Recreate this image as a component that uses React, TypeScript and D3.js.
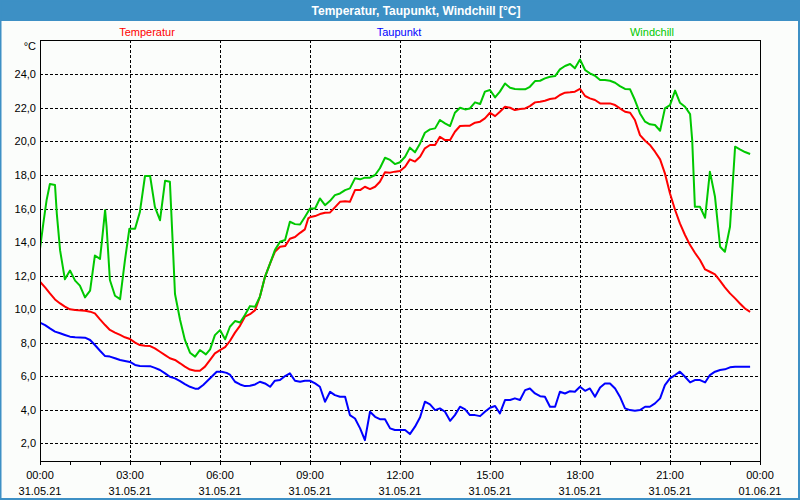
import React from 'react';
import * as d3 from 'd3';

const chartTitle = 'Temperatur, Taupunkt, Windchill [°C]';
const unitLabel = '°C';
const seriesNames = ['Temperatur', 'Taupunkt', 'Windchill'];
const seriesColors = ['#ff0000', '#0000ff', '#00c800'];

const xTickHours = [0, 3, 6, 9, 12, 15, 18, 21, 24];
const xTickTimes = ['00:00', '03:00', '06:00', '09:00', '12:00', '15:00', '18:00', '21:00', '00:00'];
const xTickDates = ['31.05.21', '31.05.21', '31.05.21', '31.05.21', '31.05.21', '31.05.21', '31.05.21', '31.05.21', '01.06.21'];
const yTicks = [2, 4, 6, 8, 10, 12, 14, 16, 18, 20, 22, 24];

const tempHours = [0, 0.17, 0.33, 0.5, 0.67, 0.83, 1, 1.17, 1.5, 1.67, 1.83, 2, 2.17, 2.33, 2.5, 2.67, 2.83, 3, 3.17, 3.33, 3.5, 3.67, 3.83, 4, 4.17, 4.33, 4.5, 4.67, 4.83, 5, 5.17, 5.33, 5.5, 5.67, 5.83, 6, 6.17, 6.33, 6.5, 6.67, 6.83, 7, 7.17, 7.33, 7.5, 7.67, 7.83, 8, 8.17, 8.33, 8.5, 8.67, 8.83, 8.94, 9.02, 9.17, 9.33, 9.5, 9.67, 9.83, 10, 10.17, 10.33, 10.5, 10.67, 10.83, 11, 11.17, 11.33, 11.5, 11.67, 11.83, 12, 12.17, 12.33, 12.5, 12.67, 12.83, 13, 13.17, 13.33, 13.5, 13.67, 13.83, 14, 14.17, 14.33, 14.5, 14.67, 14.83, 15, 15.17, 15.33, 15.5, 15.67, 15.83, 16, 16.17, 16.33, 16.5, 16.67, 16.83, 17, 17.17, 17.33, 17.5, 17.67, 17.83, 18, 18.17, 18.33, 18.5, 18.67, 18.83, 19, 19.17, 19.33, 19.5, 19.67, 19.83, 20, 20.17, 20.33, 20.5, 20.67, 20.83, 21, 21.17, 21.33, 21.5, 21.67, 21.83, 22, 22.17, 22.33, 22.5, 22.67, 22.83, 23, 23.17, 23.33, 23.5, 23.67];
const tempValues = [11.64, 11.3, 10.94, 10.58, 10.34, 10.15, 9.99, 9.95, 9.9, 9.85, 9.75, 9.39, 9.05, 8.76, 8.6, 8.46, 8.32, 8.22, 8.0, 7.86, 7.82, 7.8, 7.66, 7.46, 7.26, 7.07, 6.97, 6.77, 6.57, 6.4, 6.33, 6.33, 6.57, 6.97, 7.36, 7.56, 7.74, 8.1, 8.6, 9.02, 9.55, 9.7, 9.94, 10.74, 11.93, 12.73, 13.42, 13.72, 13.76, 14.2, 14.3, 14.55, 14.76, 15.41, 15.5, 15.55, 15.67, 15.75, 15.77, 16.07, 16.4, 16.44, 16.4, 17.1, 17.1, 17.3, 17.16, 17.3, 17.6, 18.16, 18.14, 18.2, 18.24, 18.49, 18.93, 18.8, 19.09, 19.59, 19.79, 19.79, 20.28, 20.08, 20.08, 20.58, 20.92, 20.94, 20.94, 21.12, 21.18, 21.38, 21.71, 21.51, 21.77, 22.07, 22.01, 21.87, 21.93, 21.97, 22.11, 22.33, 22.37, 22.43, 22.53, 22.57, 22.77, 22.91, 22.93, 22.97, 23.14, 22.71, 22.57, 22.47, 22.27, 22.27, 22.27, 22.17, 21.97, 21.77, 21.71, 21.28, 20.38, 20.04, 19.79, 19.39, 18.93, 18.1, 16.9, 15.91, 15.11, 14.42, 13.82, 13.36, 12.93, 12.37, 12.23, 12.07, 11.69, 11.3, 10.94, 10.64, 10.34, 10.04, 9.84];

const dewHours = [0, 0.17, 0.33, 0.5, 0.67, 0.83, 1, 1.17, 1.5, 1.67, 1.83, 2, 2.17, 2.33, 2.5, 2.67, 2.83, 3, 3.17, 3.33, 3.67, 3.83, 4, 4.17, 4.33, 4.5, 4.67, 4.83, 5, 5.17, 5.28, 5.44, 5.61, 5.78, 5.89, 6.06, 6.22, 6.33, 6.5, 6.67, 6.83, 7, 7.17, 7.33, 7.5, 7.67, 7.83, 8, 8.17, 8.33, 8.5, 8.67, 8.83, 9, 9.17, 9.33, 9.5, 9.67, 9.83, 10, 10.17, 10.33, 10.5, 10.67, 10.83, 11, 11.17, 11.33, 11.5, 11.67, 11.83, 12, 12.17, 12.33, 12.5, 12.67, 12.83, 13, 13.17, 13.33, 13.5, 13.67, 13.83, 14, 14.17, 14.33, 14.5, 14.67, 14.83, 15, 15.17, 15.33, 15.5, 15.67, 15.83, 16, 16.17, 16.33, 16.5, 16.67, 16.83, 17, 17.17, 17.33, 17.5, 17.67, 17.83, 18, 18.17, 18.33, 18.5, 18.67, 18.83, 19, 19.17, 19.33, 19.5, 19.67, 19.83, 20, 20.17, 20.33, 20.5, 20.67, 20.83, 21, 21.17, 21.33, 21.5, 21.67, 21.83, 22, 22.17, 22.33, 22.5, 22.67, 22.83, 23, 23.17, 23.33, 23.67];
const dewValues = [9.19, 9.05, 8.85, 8.66, 8.56, 8.46, 8.36, 8.32, 8.3, 8.16, 7.86, 7.52, 7.2, 7.17, 7.07, 6.97, 6.91, 6.85, 6.67, 6.61, 6.6, 6.5, 6.37, 6.17, 5.97, 5.87, 5.71, 5.53, 5.37, 5.26, 5.26, 5.48, 5.77, 6.07, 6.27, 6.27, 6.2, 6.1, 5.67, 5.51, 5.41, 5.43, 5.51, 5.67, 5.57, 5.37, 5.73, 5.77, 6.01, 6.17, 5.73, 5.67, 5.73, 5.73, 5.57, 5.37, 4.48, 5.07, 4.87, 4.78, 4.78, 3.68, 3.48, 2.89, 2.19, 3.88, 3.58, 3.44, 3.44, 2.89, 2.79, 2.79, 2.79, 2.55, 2.99, 3.55, 4.48, 4.32, 3.98, 4.08, 3.88, 3.34, 3.68, 4.18, 4.02, 3.68, 3.68, 3.62, 3.88, 4.12, 4.22, 3.78, 4.58, 4.58, 4.68, 4.58, 5.17, 5.27, 4.97, 4.81, 4.78, 4.18, 4.18, 5.07, 4.97, 5.11, 5.07, 5.37, 5.13, 5.27, 4.78, 5.33, 5.57, 5.57, 5.27, 4.78, 4.08, 3.98, 3.94, 3.98, 4.18, 4.18, 4.38, 4.68, 5.47, 5.87, 6.07, 6.27, 5.97, 5.63, 5.77, 5.77, 5.63, 6.07, 6.27, 6.37, 6.41, 6.53, 6.57, 6.57, 6.57];

const windHours = [0, 0.11, 0.22, 0.33, 0.5, 0.56, 0.67, 0.83, 1, 1.17, 1.33, 1.5, 1.67, 1.83, 2, 2.09, 2.17, 2.22, 2.33, 2.5, 2.67, 2.83, 2.98, 3.17, 3.33, 3.5, 3.67, 3.83, 4, 4.17, 4.33, 4.42, 4.5, 4.67, 4.83, 5, 5.17, 5.33, 5.53, 5.67, 5.83, 6, 6.17, 6.33, 6.5, 6.67, 6.83, 7, 7.17, 7.33, 7.5, 7.67, 7.83, 8, 8.17, 8.33, 8.5, 8.67, 8.83, 9, 9.17, 9.33, 9.5, 9.67, 9.83, 10, 10.17, 10.33, 10.5, 10.67, 10.83, 11, 11.17, 11.33, 11.5, 11.67, 11.83, 12, 12.17, 12.33, 12.5, 12.67, 12.83, 13, 13.17, 13.33, 13.5, 13.67, 13.83, 14, 14.17, 14.33, 14.5, 14.67, 14.83, 15, 15.17, 15.33, 15.5, 15.67, 15.83, 16, 16.17, 16.33, 16.5, 16.67, 16.83, 17, 17.17, 17.33, 17.5, 17.67, 17.83, 18, 18.17, 18.33, 18.5, 18.67, 18.83, 19, 19.17, 19.33, 19.5, 19.67, 19.83, 20, 20.17, 20.33, 20.5, 20.67, 20.83, 21, 21.17, 21.33, 21.5, 21.67, 21.74, 21.83, 22, 22.17, 22.33, 22.5, 22.67, 22.83, 23, 23.17, 23.33, 23.5, 23.67];
const windValues = [13.6, 15.1, 16.5, 17.46, 17.4, 15.7, 13.5, 11.78, 12.3, 11.7, 11.4, 10.7, 11.1, 13.2, 13.0, 14.5, 15.9, 14.9, 11.74, 10.8, 10.6, 12.9, 14.8, 14.8, 15.8, 17.94, 17.94, 16.1, 15.3, 17.66, 17.6, 14.1, 10.9, 9.35, 8.16, 7.4, 7.17, 7.56, 7.3, 7.6, 8.45, 8.75, 8.2, 8.95, 9.29, 9.2, 9.65, 10.18, 10.14, 10.74, 11.93, 12.73, 13.52, 14.02, 14.12, 15.21, 15.07, 15.05, 15.5, 16.0, 16.0, 16.6, 16.2, 16.46, 16.8, 16.9, 17.1, 17.2, 17.8, 17.74, 17.84, 17.84, 18.0, 18.4, 19.03, 18.9, 18.65, 18.76, 19.09, 19.63, 19.35, 19.88, 20.52, 20.72, 20.78, 21.28, 21.08, 20.92, 21.71, 22.01, 21.91, 21.97, 22.33, 22.23, 22.97, 23.07, 22.63, 22.97, 23.46, 23.2, 23.13, 23.11, 23.11, 23.26, 23.6, 23.62, 23.76, 23.86, 23.9, 24.3, 24.5, 24.62, 24.36, 24.89, 24.26, 24.06, 23.92, 23.66, 23.66, 23.62, 23.5, 23.3, 23.13, 23.11, 22.47, 21.67, 21.18, 21.02, 20.98, 20.64, 21.97, 22.17, 23.03, 22.31, 22.07, 21.63, 20.08, 16.1, 16.1, 15.45, 18.2, 16.7, 13.72, 13.42, 14.91, 19.69, 19.53, 19.37, 19.25];

const W = 800;
const H = 500;
const plot = { left: 40, right: 760, top: 40, bottom: 461 };

export default function App() {
  const x = d3.scaleLinear().domain([0, 24]).range([plot.left, plot.right]);
  const y = d3.scaleLinear().domain([0.944, 26.05]).range([plot.bottom, plot.top]);
  const hourTicks = d3.range(0, 25, 1);
  const fmt = (v: number) => d3.format('.1f')(v).replace('.', ',');

  const series = [
    { hours: tempHours, values: tempValues },
    { hours: dewHours, values: dewValues },
    { hours: windHours, values: windValues },
  ];
  const line = d3
    .line<[number, number]>()
    .x((d) => x(d[0]))
    .y((d) => y(d[1]));

  const legendX = [147, 399, 652];
  const font = "'Liberation Sans', Arial, sans-serif";

  return (
    <>
      <style>{`body{margin:0;padding:0;} svg{display:block;}`}</style>
      <svg width={W} height={H} viewBox={`0 0 ${W} ${H}`} fontFamily={font}>
        <defs>
          <clipPath id="plotClip">
            <rect x={plot.left} y={plot.top} width={plot.right - plot.left} height={plot.bottom - plot.top} />
          </clipPath>
        </defs>
        <rect x={0} y={0} width={W} height={H} fill="#fbfdfb" />
        <rect x={0} y={0} width={W} height={21} fill="#3d90c5" />
        <rect x={0.5} y={0.5} width={W - 1.5} height={H - 1.5} fill="none" stroke="#3d90c5" strokeWidth={2} />
        <text x={416} y={15} textAnchor="middle" fill="#ffffff" fontWeight="bold" fontSize={12}>
          {chartTitle}
        </text>
        {seriesNames.map((n, i) => (
          <text key={n} x={legendX[i]} y={36} textAnchor="middle" fill={seriesColors[i]} fontSize={11}>
            {n}
          </text>
        ))}
        <text x={36} y={50} textAnchor="end" fontSize={11} fill="#000">
          {unitLabel}
        </text>

        {/* grid */}
        <g shapeRendering="crispEdges" stroke="#000" strokeWidth={1} strokeDasharray="3,2">
          {yTicks.map((t) => (
            <line key={'gy' + t} x1={plot.left} x2={plot.right} y1={Math.round(y(t)) + 0.5} y2={Math.round(y(t)) + 0.5} />
          ))}
          {xTickHours.filter((h) => h > 0 && h < 24).map((h) => (
            <line key={'gx' + h} x1={Math.round(x(h)) + 0.5} x2={Math.round(x(h)) + 0.5} y1={plot.top} y2={plot.bottom} />
          ))}
        </g>

        {/* series */}
        <g clipPath="url(#plotClip)" fill="none" strokeWidth={2} strokeLinejoin="round">
          {series.map((s, i) => (
            <path
              key={seriesNames[i]}
              d={line(s.hours.map((h, j) => [h, s.values[j]] as [number, number])) || ''}
              stroke={seriesColors[i]}
            />
          ))}
        </g>

        {/* frame */}
        <rect
          x={plot.left + 0.5}
          y={plot.top + 0.5}
          width={plot.right - plot.left}
          height={plot.bottom - plot.top}
          fill="none"
          stroke="#000"
          strokeWidth={1}
          shapeRendering="crispEdges"
        />

        {/* x ticks */}
        <g stroke="#000" strokeWidth={1} shapeRendering="crispEdges">
          {hourTicks.map((h) => (
            <line key={'tx' + h} x1={Math.round(x(h)) + 0.5} x2={Math.round(x(h)) + 0.5} y1={plot.bottom} y2={plot.bottom + 4} />
          ))}
        </g>
        {xTickHours.map((h, i) => (
          <g key={'lx' + i} fontSize={11} fill="#000" textAnchor="middle">
            <text x={x(h)} y={479}>{xTickTimes[i]}</text>
            <text x={x(h)} y={495}>{xTickDates[i]}</text>
          </g>
        ))}
        {yTicks.map((t) => (
          <text key={'ly' + t} x={36} y={y(t) + 4} textAnchor="end" fontSize={11} fill="#000">
            {fmt(t)}
          </text>
        ))}
      </svg>
    </>
  );
}
